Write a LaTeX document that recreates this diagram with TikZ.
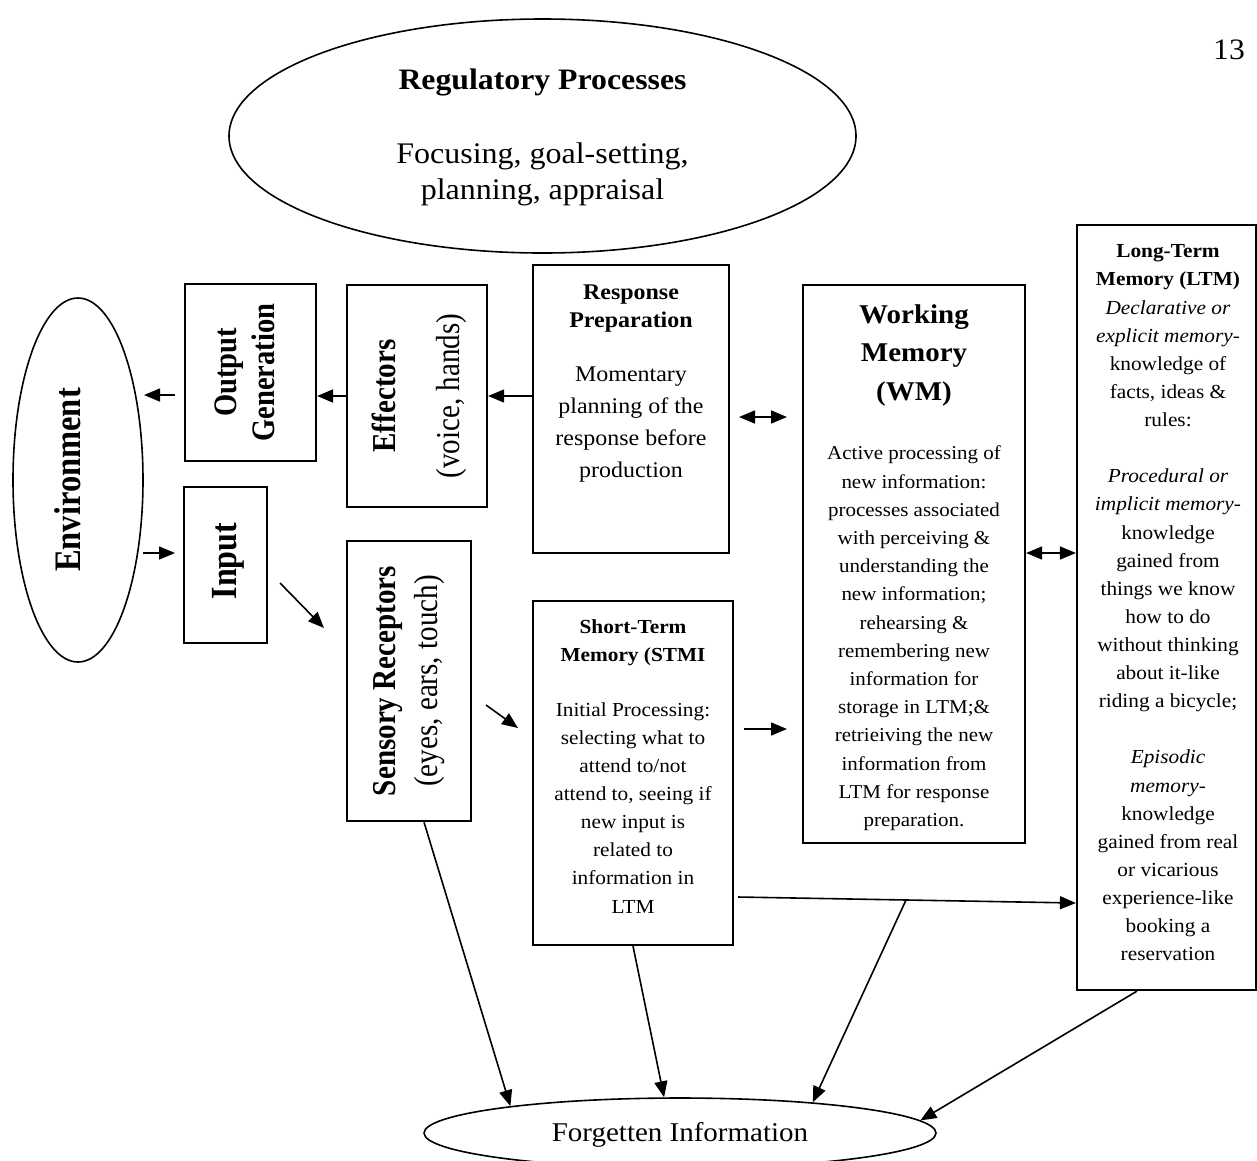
\documentclass[tikz,border=0pt]{standalone}
\usepackage{fontspec}
\setmainfont{Liberation Serif}[FakeStretch=1.07]
\newfontfamily\rotfam{Liberation Serif}[FakeStretch=0.87]
\usetikzlibrary{arrows.meta,shapes.geometric}
\newcommand\fsz[2]{\fontsize{#1}{#2}\selectfont}
\begin{document}
\begin{tikzpicture}[x=1pt,y=-1pt,
  box/.style={draw, rectangle, line width=2.2pt, inner sep=0pt},
  oval/.style={draw, ellipse, line width=1.6pt, inner sep=0pt},
  txt/.style={align=center, inner sep=0pt, execute at begin node=\strut, execute at end node=\strut},
  arr/.style={line width=1.6pt, -{Triangle[length=16pt,width=13pt]}},
  darr/.style={line width=1.6pt, {Triangle[length=16pt,width=13pt]}-{Triangle[length=16pt,width=13pt]}},
]
\useasboundingbox (0,0) rectangle (1257,1160);
\clip (0,0) rectangle (1257,1160);

% page number
\node[txt, font=\fsz{29.6}{34}] (pg) at (1229,53) {13};

% ellipses
\node[oval, minimum width=627, minimum height=234] (reg) at (542.5,136) {};
\node[oval, minimum width=130, minimum height=364] (env) at (78,480) {};
\node[oval, minimum width=512, minimum height=70] (forg) at (680,1133) {};

% boxes
\node[box, minimum width=131, minimum height=177] (og) at (250.5,372.5) {};
\node[box, minimum width=140, minimum height=222] (eff) at (417,396) {};
\node[box, minimum width=196, minimum height=288] (resp) at (631,409) {};
\node[box, minimum width=83, minimum height=156] (inp) at (225.5,565) {};
\node[box, minimum width=124, minimum height=280] (sens) at (409,681) {};
\node[box, minimum width=200, minimum height=344] (stm) at (633,773) {};
\node[box, minimum width=222, minimum height=558] (wm) at (914,564) {};
\node[box, minimum width=179, minimum height=765] (ltm) at (1166.5,607.5) {};

% texts
\node[txt, font=\bfseries\fsz{29.7}{33}] (regT) at (542.5,83) {Regulatory Processes};
\node[txt, font=\fsz{29.9}{36.5}] (regB) at (542.5,176.5) {Focusing, goal-setting,\\planning, appraisal};

\node[txt, rotate=90, font=\rotfam\bfseries\fsz{37.4}{45}] (envT) at (71,480) {Environment};
\node[txt, rotate=90, font=\rotfam\bfseries\fsz{32.8}{38}] (ogT) at (250,372.5) {Output\\Generation};
\node[txt, rotate=90, font=\rotfam\fsz{33.4}{32}] (effT) at (421,396) {\textbf{Effectors}\\[32pt](voice, hands)};
\node[txt, rotate=90, font=\rotfam\bfseries\fsz{36.8}{44}] (inpT) at (228,561) {Input};
\node[txt, rotate=90, font=\rotfam\fsz{33.4}{42}] (sensT) at (411.5,681) {\textbf{Sensory Receptors}\\(eyes, ears, touch)};

\node[txt, font=\bfseries\fsz{22.4}{28}] (respT) at (631,310.5) {Response\\Preparation};
\node[txt, font=\fsz{22.4}{32}] (respB) at (631,426.5) {Momentary\\planning of the\\response before\\production};

\node[txt, font=\bfseries\fsz{27.1}{38.5}] (wmT) at (914,358) {Working\\Memory\\(WM)};
\node[txt, font=\fsz{19.6}{28.2}] (wmB) at (914,640.5) {Active processing of\\new information:\\processes associated\\with perceiving \&\\understanding the\\new information;\\rehearsing \&\\remembering new\\information for\\storage in LTM;\&\\retrieiving the new\\information from\\LTM for response\\preparation.};

\node[txt, font=\bfseries\fsz{19.9}{28}] (stmT) at (633,644.5) {Short-Term\\Memory (STMI};
\node[txt, font=\fsz{19.9}{28.1}] (stmB) at (633,812) {Initial Processing:\\selecting what to\\attend to/not\\attend to, seeing if\\new input is\\related to\\information in\\LTM};

\node[txt, font=\fsz{19.9}{28.12}] (ltmT) at (1168,607) {\textbf{Long-Term}\\\textbf{Memory (LTM)}\\\textit{Declarative or}\\\textit{explicit memory}-\\knowledge of\\facts, ideas \&\\rules:\\[28.12pt]\textit{Procedural or}\\\textit{implicit memory}-\\knowledge\\gained from\\things we know\\how to do\\without thinking\\about it-like\\riding a bicycle;\\[28.12pt]\textit{Episodic}\\\textit{memory}-\\knowledge\\gained from real\\or vicarious\\experience-like\\booking a\\reservation};

\node[txt, font=\fsz{27.1}{30}] (forgT) at (680,1135.5) {Forgetten Information};

% free connector ends
\coordinate (oe1) at (175,395);
\coordinate (oe2) at (144,395);
\coordinate (ei1) at (143,553);
\coordinate (ei2) at (175,553);
\coordinate (is1) at (280,583);
\coordinate (is2) at (324,628);
\coordinate (ss1) at (486,705);
\coordinate (ss2) at (518,728);
\coordinate (sw1) at (744,729);
\coordinate (sw2) at (787,729);
\coordinate (rw1) at (739,417);
\coordinate (rw2) at (787,417);
\coordinate (y553) at (0,553);
\coordinate (sl1) at (738,897);
\coordinate (y903) at (0,903);
\coordinate (jn) at (906,900);

% connectors
\draw[arr] (oe1) -- (oe2);
\draw[arr] (eff.west) -- (eff.west -| og.east);
\draw[arr] (resp.west |- eff.east) -- (eff.east);
\draw[arr] (ei1) -- (ei2);
\draw[arr] (is1) -- (is2);
\draw[arr] (ss1) -- (ss2);
\draw[arr] (sw1) -- (sw2);
\draw[darr] (rw1) -- (rw2);
\draw[darr] (wm.east |- y553) -- (ltm.west |- y553);
\draw[arr] (sl1) -- (ltm.west |- y903);
\draw[arr] ([xshift=15pt]sens.south) -- (forg.171.7);
\draw[arr] (stm.south) -- (forg.114.6);
\draw[arr] (jn) -- (forg.13.8);
\draw[arr] ([xshift=-29.5pt]ltm.south) -- (forg.3);
\end{tikzpicture}
\end{document}
